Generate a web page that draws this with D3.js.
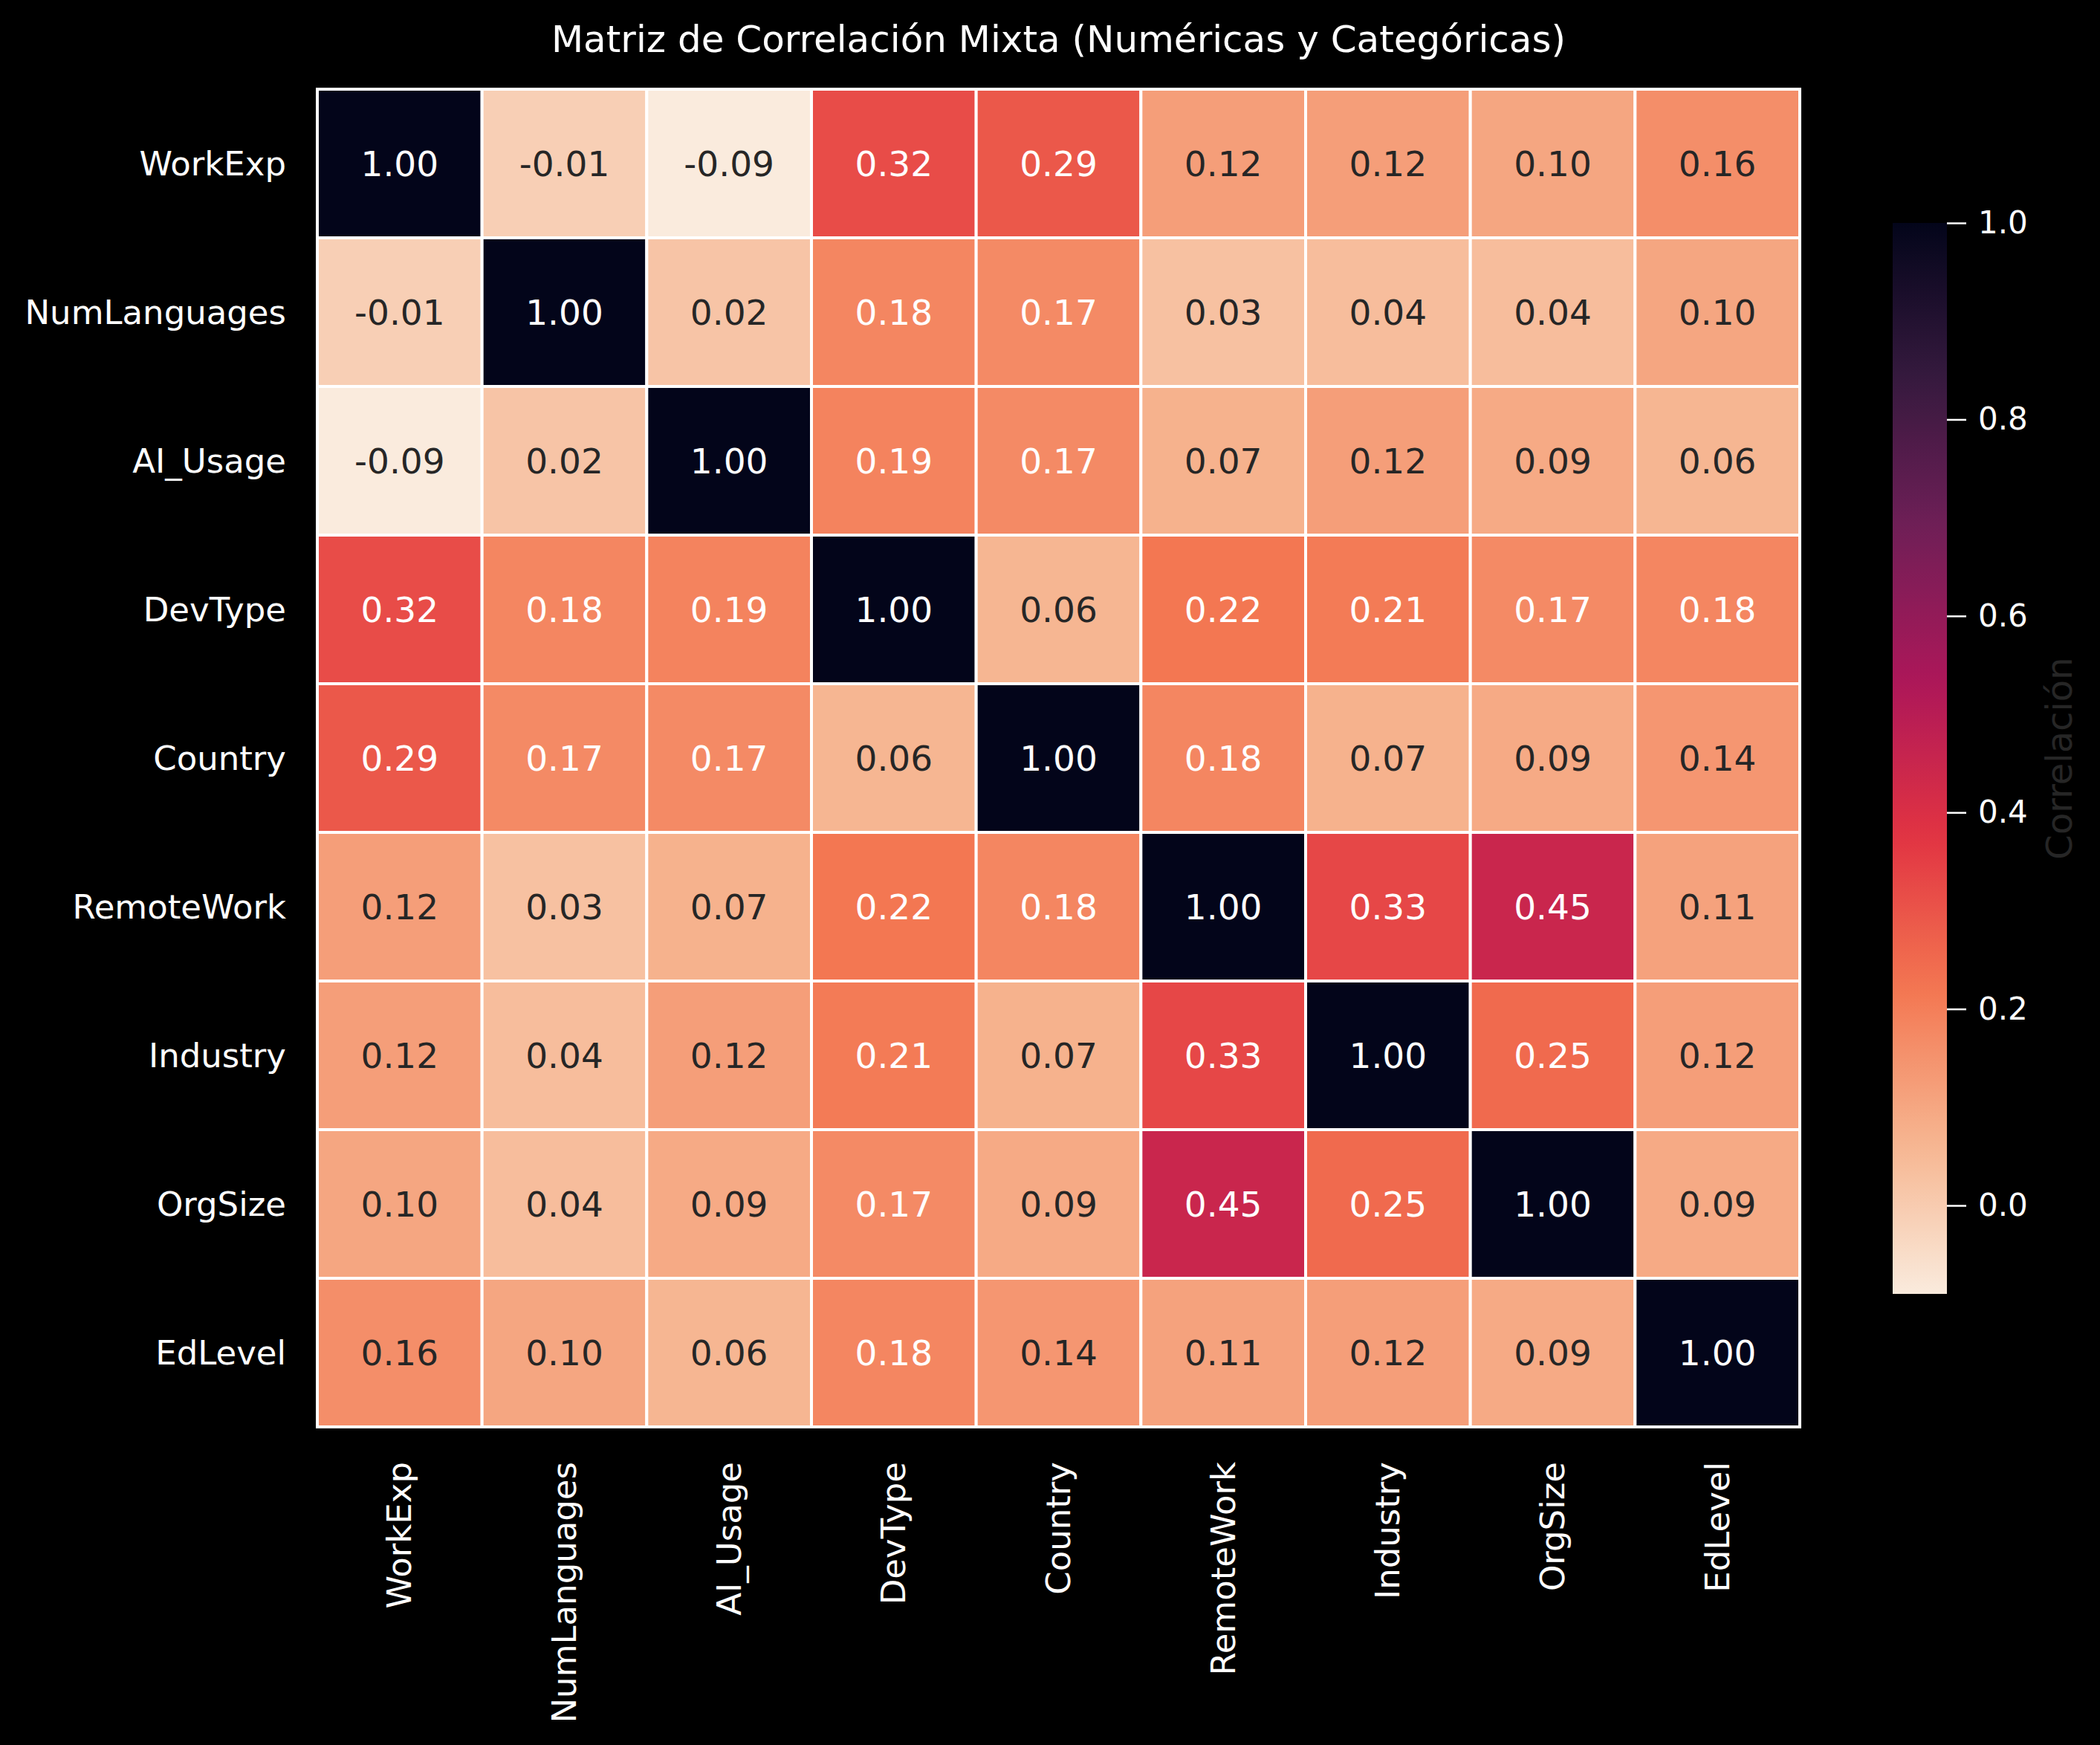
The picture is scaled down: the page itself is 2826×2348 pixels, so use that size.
<!DOCTYPE html>
<html lang="en">
<head>
<meta charset="UTF-8">
<title>Matriz de Correlación Mixta</title>
<script src="https://cdn.jsdelivr.net/npm/d3@7"></script>
<style>
    body {
        margin: 0;
        padding: 0;
        background-color: #000;
    }
    svg text {
        font-family: 'DejaVu Sans', sans-serif;
    }
</style>
</head>
<body>
<svg id="chart"></svg>
<script>
    // variables (rows and columns share the same order)
    const labels = ["WorkExp", "NumLanguages", "AI_Usage", "DevType", "Country",
                    "RemoteWork", "Industry", "OrgSize", "EdLevel"];

    // correlation values, one row per variable
    const rowWorkExp      = [1.00, -0.01, -0.09, 0.32, 0.29, 0.12, 0.12, 0.10, 0.16];
    const rowNumLanguages = [-0.01, 1.00, 0.02, 0.18, 0.17, 0.03, 0.04, 0.04, 0.10];
    const rowAIUsage      = [-0.09, 0.02, 1.00, 0.19, 0.17, 0.07, 0.12, 0.09, 0.06];
    const rowDevType      = [0.32, 0.18, 0.19, 1.00, 0.06, 0.22, 0.21, 0.17, 0.18];
    const rowCountry      = [0.29, 0.17, 0.17, 0.06, 1.00, 0.18, 0.07, 0.09, 0.14];
    const rowRemoteWork   = [0.12, 0.03, 0.07, 0.22, 0.18, 1.00, 0.33, 0.45, 0.11];
    const rowIndustry     = [0.12, 0.04, 0.12, 0.21, 0.07, 0.33, 1.00, 0.25, 0.12];
    const rowOrgSize      = [0.10, 0.04, 0.09, 0.17, 0.09, 0.45, 0.25, 1.00, 0.09];
    const rowEdLevel      = [0.16, 0.10, 0.06, 0.18, 0.14, 0.11, 0.12, 0.09, 1.00];

    const colorbarTicks = [0.0, 0.2, 0.4, 0.6, 0.8, 1.0];

    const matrix = [rowWorkExp, rowNumLanguages, rowAIUsage, rowDevType, rowCountry,
                    rowRemoteWork, rowIndustry, rowOrgSize, rowEdLevel];

    const cells = [];
    matrix.forEach((row, i) => {
        row.forEach((v, j) => cells.push({ row: labels[i], col: labels[j], value: v }));
    });

    const width = 2826, height = 2348;
    const svg = d3.select("#chart")
        .attr("width", width)
        .attr("height", height);

    svg.append("rect")
        .attr("width", width)
        .attr("height", height)
        .attr("fill", "#000");

    // rocket palette (seaborn), used reversed
    const rocketStops = ["#03051a", "#35193e", "#701f57", "#ad1759",
                         "#e13342", "#f37651", "#f6b48f", "#faebdd"];
    const rocket = d3.scaleLinear()
        .domain(d3.range(rocketStops.length).map(i => i / (rocketStops.length - 1)))
        .range(rocketStops)
        .interpolate(d3.interpolateRgb);

    const vmin = d3.min(cells, d => d.value);
    const vmax = d3.max(cells, d => d.value);
    const norm = d3.scaleLinear().domain([vmin, vmax]).range([0, 1]);
    const color = v => rocket(1 - norm(v));

    // text colour picked from the cell luminance, like seaborn does
    function luminance(c) {
        const rgb = d3.rgb(c);
        const lin = x => {
            x = x / 255;
            return x <= 0.03928 ? x / 12.92 : Math.pow((x + 0.055) / 1.055, 2.4);
        };
        return 0.2126 * lin(rgb.r) + 0.7152 * lin(rgb.g) + 0.0722 * lin(rgb.b);
    }
    // cut-off placed where the approximated palette flips (between 0.16 and 0.17)
    const lumCut = (luminance(color(0.16)) + luminance(color(0.17))) / 2;

    const x = d3.scaleBand().domain(labels).range([427, 2422]);
    const y = d3.scaleBand().domain(labels).range([120, 1920]);

    // cells
    svg.append("g")
        .selectAll("rect")
        .data(cells)
        .enter().append("rect")
        .attr("x", d => x(d.col))
        .attr("y", d => y(d.row))
        .attr("width", x.bandwidth())
        .attr("height", y.bandwidth())
        .attr("fill", d => color(d.value))
        .attr("stroke", "#fff")
        .attr("stroke-width", 4);

    // annotations
    svg.append("g")
        .selectAll("text")
        .data(cells)
        .enter().append("text")
        .attr("x", d => x(d.col) + x.bandwidth() / 2)
        .attr("y", d => y(d.row) + y.bandwidth() / 2)
        .attr("text-anchor", "middle")
        .attr("dominant-baseline", "central")
        .style("font-size", "47px")
        .attr("fill", d => luminance(color(d.value)) > lumCut ? "#262626" : "#fff")
        .text(d => d.value.toFixed(2));

    // y tick labels
    svg.append("g")
        .selectAll("text")
        .data(labels)
        .enter().append("text")
        .attr("x", 385)
        .attr("y", d => y(d) + y.bandwidth() / 2)
        .attr("text-anchor", "end")
        .attr("dominant-baseline", "central")
        .style("font-size", "45px")
        .attr("fill", "#fff")
        .text(d => d);

    // x tick labels, rotated
    svg.append("g")
        .selectAll("text")
        .data(labels)
        .enter().append("text")
        .attr("transform", d => `translate(${x(d) + x.bandwidth() / 2},1967) rotate(-90)`)
        .attr("text-anchor", "end")
        .attr("dominant-baseline", "central")
        .style("font-size", "45px")
        .attr("fill", "#fff")
        .text(d => d);

    // title
    svg.append("text")
        .attr("x", (427 + 2422) / 2)
        .attr("y", 70)
        .attr("text-anchor", "middle")
        .style("font-size", "50px")
        .attr("fill", "#fff")
        .text("Matriz de Correlación Mixta (Numéricas y Categóricas)");

    // colorbar
    const cbX = 2547, cbW = 73;
    const cbScale = d3.scaleLinear().domain([vmin, vmax]).range([1741, 300]);

    const grad = svg.append("defs").append("linearGradient")
        .attr("id", "cbGrad")
        .attr("x1", 0).attr("y1", 1)
        .attr("x2", 0).attr("y2", 0);
    d3.range(0, 1.0001, 0.02).forEach(t => {
        grad.append("stop")
            .attr("offset", t)
            .attr("stop-color", color(vmin + t * (vmax - vmin)));
    });

    svg.append("rect")
        .attr("x", cbX)
        .attr("y", cbScale(vmax))
        .attr("width", cbW)
        .attr("height", cbScale(vmin) - cbScale(vmax))
        .attr("fill", "url(#cbGrad)");

    const cbAxis = svg.append("g")
        .attr("transform", `translate(${cbX + cbW},0)`)
        .call(d3.axisRight(cbScale)
            .tickValues(colorbarTicks)
            .tickFormat(d3.format(".1f"))
            .tickSize(26)
            .tickPadding(16));
    cbAxis.select(".domain").remove();
    cbAxis.selectAll("line").attr("stroke", "#fff").attr("stroke-width", 2.5);
    cbAxis.selectAll("text")
        .attr("fill", "#fff")
        .style("font-size", "42px")
        .style("font-family", "'DejaVu Sans', sans-serif");

    svg.append("text")
        .attr("transform", `translate(2788,${(300 + 1741) / 2}) rotate(-90)`)
        .attr("text-anchor", "middle")
        .style("font-size", "48px")
        .attr("fill", "#262626")
        .text("Correlación");
</script>
</body>
</html>
